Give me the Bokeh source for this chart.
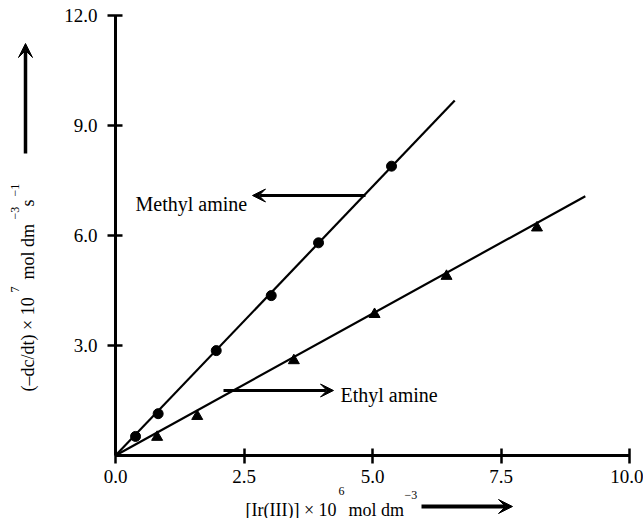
import math
from bokeh.plotting import figure
from bokeh.models import (Range1d, LinearAxis, FixedTicker, Label, Arrow, VeeHead,
                          PrintfTickFormatter)
from bokeh.embed import file_html
from bokeh.resources import INLINE

# ---------------- data ----------------
methyl_x = [0.39, 0.83, 1.96, 3.03, 3.95, 5.37]
methyl_y = [0.52, 1.14, 2.86, 4.36, 5.80, 7.89]
methyl_fit_x = [0.0, 6.60]
methyl_fit_y = [0.0, 9.68]

ethyl_x = [0.81, 1.59, 3.47, 5.04, 6.44, 8.20]
ethyl_y = [0.50, 1.07, 2.59, 3.85, 4.89, 6.21]
ethyl_fit_x = [0.0, 9.14]
ethyl_fit_y = [0.0, 7.07]

x_ticks = [0.0, 2.5, 5.0, 7.5, 10.0]
x_tick_labels = ["0.0", "2.5", "5.0", "7.5", "10.0"]
y_ticks = [3.0, 6.0, 9.0, 12.0]
y_tick_labels = ["3.0", "6.0", "9.0", "12.0"]

# ---------------- layout helpers (page pixel -> data) ----------------
X0, XS = 115.0, 51.4     # page x of x=0, px per unit
Y0, YS = 455.0, 36.67    # page y of y=0, px per unit


def X(px):
    return (px - X0) / XS


def Y(py):
    return (Y0 - py) / YS


W, H = 643, 518
FONT = "Liberation Serif"

p = figure(width=W, height=H,
           x_range=Range1d(X(0), X(W)), y_range=Range1d(Y(H), Y(0)),
           x_axis_location=None, y_axis_location=None,
           toolbar_location=None, output_backend="svg", min_border=0)
p.outline_line_color = None
p.background_fill_color = "white"
p.border_fill_color = "white"
p.xgrid.visible = False
p.ygrid.visible = False


def style_axis(ax):
    ax.axis_line_width = 3
    ax.axis_line_color = "black"
    ax.major_tick_line_width = 2.5
    ax.major_tick_line_color = "black"
    ax.major_tick_in = 7
    ax.major_tick_out = 8
    ax.minor_tick_line_color = None
    ax.major_label_text_font = FONT
    ax.major_label_text_font_size = "19px"
    ax.major_label_text_color = "black"
    ax.formatter = PrintfTickFormatter(format="%.1f")


xaxis = LinearAxis(fixed_location=0, bounds=(0, 10), ticker=FixedTicker(ticks=x_ticks),
                   major_label_overrides=dict(zip(x_ticks, x_tick_labels)))
style_axis(xaxis)
xaxis.major_label_standoff = 6
p.add_layout(xaxis, "below")

yaxis = LinearAxis(fixed_location=0, bounds=(0, 12), ticker=FixedTicker(ticks=y_ticks),
                   major_label_overrides=dict(zip(y_ticks, y_tick_labels)))
style_axis(yaxis)
yaxis.major_label_standoff = 10
p.add_layout(yaxis, "left")

# ---------------- series ----------------
p.line(methyl_fit_x, methyl_fit_y, line_color="black", line_width=2.2)
p.line(ethyl_fit_x, ethyl_fit_y, line_color="black", line_width=2.2)
p.scatter(methyl_x, methyl_y, marker="circle", size=10, fill_color="black", line_color="black")
p.scatter(ethyl_x, ethyl_y, marker="triangle", size=11, fill_color="black", line_color="black")


# ---------------- annotations ----------------
def lab(px, py, text, size, **kw):
    p.add_layout(Label(x=X(px), y=Y(py), text=text, text_font=FONT,
                       text_font_size=size, text_color="black", **kw))


def arrow(x1, y1, x2, y2, lw, hs):
    p.add_layout(Arrow(x_start=X(x1), y_start=Y(y1), x_end=X(x2), y_end=Y(y2),
                       line_width=lw, line_color="black",
                       end=VeeHead(size=hs, fill_color="black", line_color="black",
                                   line_width=1)))


# series labels
lab(135, 203, "Methyl amine", "20px", text_align="left", text_baseline="alphabetic")
arrow(365, 195, 252, 195, 3, 13)
lab(340, 394, "Ethyl amine", "20px", text_align="left", text_baseline="alphabetic")
arrow(223, 390, 333, 390, 3, 13)

# x axis label
lab(245, 509, "[Ir(III)] × 10", "18px", text_align="left", text_baseline="alphabetic")
lab(338, 490, "6", "12px", text_align="left", text_baseline="middle")
lab(348, 509, "mol dm", "18px", text_align="left", text_baseline="alphabetic")
lab(404, 494, "−3", "12px", text_align="left", text_baseline="middle")
arrow(421, 506, 512, 506, 4, 14)

# y axis label (rotated)
rot = dict(angle=math.pi / 2, angle_units="rad", text_align="left", text_baseline="middle")
lab(27, 391, "(–dc/dt) × 10", "18px", **rot)
lab(14, 292, "7", "12px", **rot)
lab(27, 279, "mol dm", "18px", **rot)
lab(14, 219, "−3", "12px", **rot)
lab(27, 206, "s", "18px", **rot)
lab(14, 196, "−1", "12px", **rot)
arrow(25, 153, 25, 43, 3.5, 14)

open("out.html", "w").write(file_html(p, INLINE))
